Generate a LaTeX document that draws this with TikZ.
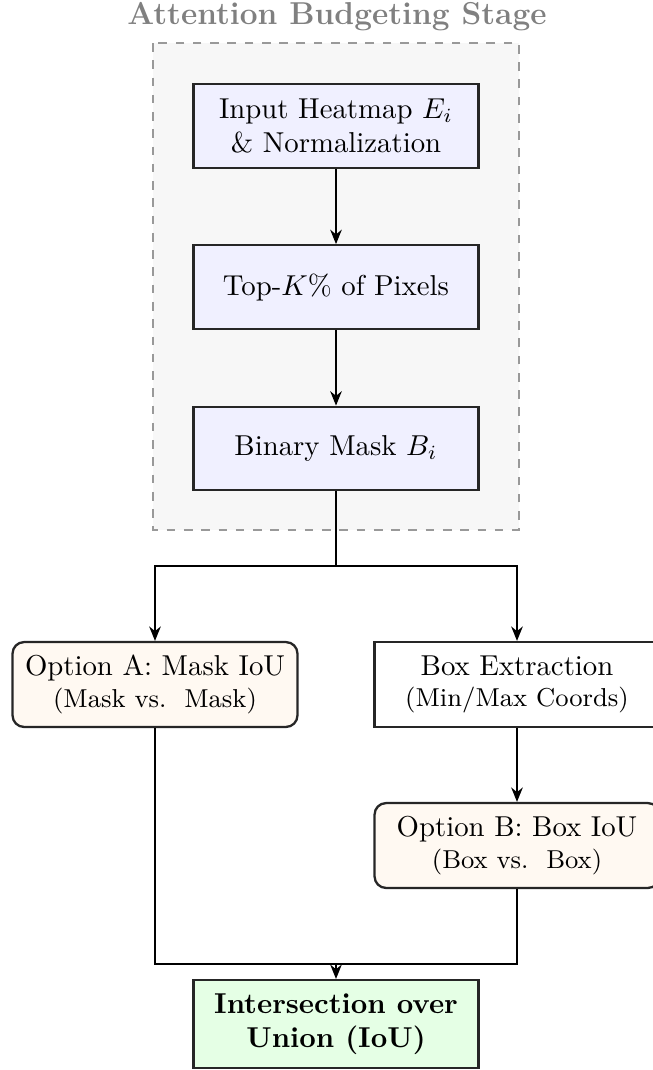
\documentclass[tikz,border=0pt]{standalone}
\usetikzlibrary{arrows.meta,positioning}

\tikzset{
  px/.style={x=0.3475pt,y=-0.3475pt},
  stagebox/.style={draw=gray!80, dashed, fill=gray!6, line width=0.5pt},
  stagetitle/.style={text=gray, font=\fontsize{11}{13}\selectfont\bfseries},
  procbox/.style={draw=black!85, thick, fill=blue!6, align=center,
    minimum width=99pt, minimum height=29pt, inner sep=2pt},
  optbox/.style={draw=black!85, thick, fill=orange!5, rounded corners=4pt,
    align=center, minimum width=99pt, minimum height=29.5pt, inner sep=2pt},
  plainbox/.style={draw=black!85, thick, fill=white, align=center,
    minimum width=99pt, minimum height=29.5pt, inner sep=2pt},
  resultbox/.style={draw=black!85, thick, fill=green!10, align=center,
    minimum width=99pt, minimum height=30.5pt, inner sep=2pt, font=\bfseries},
  flow/.style={thick, -{Stealth[length=5pt,width=4pt]}},
  link/.style={thick}
}

\begin{document}
\begin{tikzpicture}[px]
  \useasboundingbox (0,0) rectangle (653,1070);
  \clip (0,0) rectangle (653,1070);

  % dashed frame of the budgeting stage
  \draw[stagebox] (153,43) rectangle (519,530);
  \node[stagetitle] (title) at (337,17) {Attention Budgeting Stage};

  % stage steps
  \node[procbox] (heat) at (336,126) {Input Heatmap $E_i$\\\& Normalization};
  \node[procbox] (topk) at (336,287) {Top-$K$\% of Pixels};
  \node[procbox] (mask) at (336,448.5) {Binary Mask $B_i$};

  % two evaluation branches
  \node[optbox] (optA) at (155,684.5) {Option A: Mask IoU\\[-1pt]{\small (Mask vs.\ \ Mask)}};
  \node[plainbox] (boxex) at (517,684.5) {Box Extraction\\[-1pt]{\small (Min/Max Coords)}};
  \node[optbox] (optB) at (517,845.5) {Option B: Box IoU\\[-1pt]{\small (Box vs.\ \ Box)}};

  % final metric
  \node[resultbox] (iou) at (336,1024) {Intersection over\\Union (IoU)};

  \coordinate (fork) at (336,566);
  \coordinate (join) at (336,964);

  \draw[flow] (heat) -- (topk);
  \draw[flow] (topk) -- (mask);
  \draw[link] (mask.south) -- (fork);
  \draw[flow] (fork) -| (optA.north);
  \draw[flow] (fork) -| (boxex.north);
  \draw[flow] (boxex) -- (optB);
  \draw[link] (optA.south) |- (join);
  \draw[link] (optB.south) |- (join);
  \draw[flow] (join) -- (iou.north);
\end{tikzpicture}
\end{document}
